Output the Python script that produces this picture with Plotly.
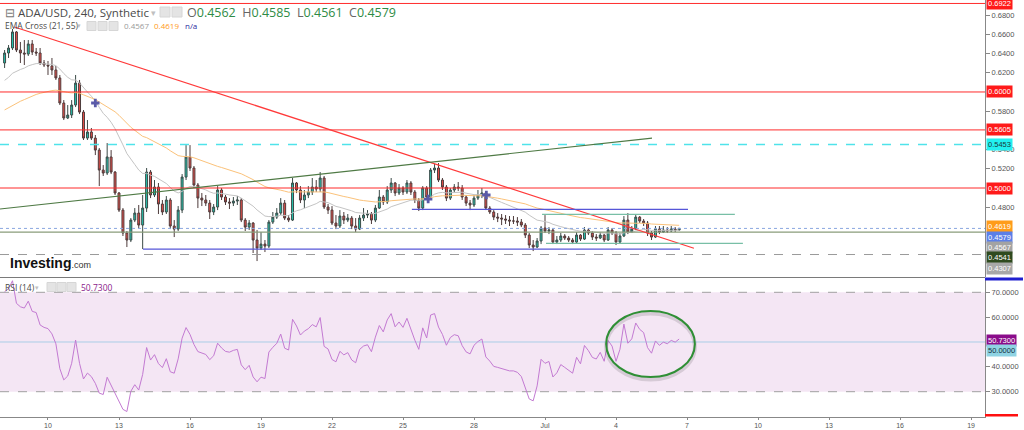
import plotly.graph_objects as go
import pandas as pd

# ---------------- data ----------------
first_open = 0.6302
candle_start = "2019-06-08 04:00"
candle_count = 172

close = [
    0.6406, 0.6458, 0.6625, 0.6437, 0.6406, 0.6395, 0.6500, 0.6416, 0.6406, 0.6302,
    0.6281, 0.6271, 0.6229, 0.6146, 0.5885, 0.5729, 0.5760, 0.5864, 0.6093, 0.5791,
    0.5520, 0.5583, 0.5520, 0.5395, 0.5187, 0.5156, 0.5323, 0.5166, 0.4948, 0.4770,
    0.4531, 0.4458, 0.4666, 0.4739, 0.4614, 0.4791, 0.5166, 0.4927, 0.5010, 0.4833,
    0.4750, 0.4875, 0.4604, 0.4572, 0.4770, 0.5114, 0.5323, 0.5208, 0.5031, 0.4895,
    0.4875, 0.4843, 0.4750, 0.4802, 0.4979, 0.4906, 0.4854, 0.4843, 0.4864, 0.4875,
    0.4666, 0.4593, 0.4635, 0.4458, 0.4375, 0.4416, 0.4395, 0.4645, 0.4697, 0.4739,
    0.4843, 0.4687, 0.4666, 0.5052, 0.4979, 0.4875, 0.4927, 0.4958, 0.5010, 0.4989,
    0.5104, 0.4802, 0.4770, 0.4635, 0.4604, 0.4708, 0.4666, 0.4687, 0.4604, 0.4572,
    0.4687, 0.4718, 0.4729, 0.4666, 0.4791, 0.4906, 0.4854, 0.4979, 0.5052, 0.4948,
    0.5000, 0.4958, 0.5052, 0.4958, 0.4875, 0.4791, 0.5000, 0.4906, 0.5187, 0.5208,
    0.5083, 0.5010, 0.4895, 0.4979, 0.5010, 0.5000, 0.4906, 0.4843, 0.4823, 0.4895,
    0.4927, 0.4948, 0.4791, 0.4750, 0.4697, 0.4687, 0.4677, 0.4666, 0.4656, 0.4656,
    0.4645, 0.4614, 0.4510, 0.4406, 0.4385, 0.4448, 0.4583, 0.4552, 0.4562, 0.4437,
    0.4458, 0.4500, 0.4479, 0.4458, 0.4437, 0.4510, 0.4468, 0.4562, 0.4531, 0.4489,
    0.4479, 0.4510, 0.4458, 0.4562, 0.4531, 0.4437, 0.4500, 0.4666, 0.4541, 0.4572,
    0.4697, 0.4656, 0.4635, 0.4531, 0.4489, 0.4572, 0.4541, 0.4562, 0.4552, 0.4572,
    0.4562, 0.4579,
]
high = [
    0.6437, 0.6489, 0.6656, 0.6635, 0.6521, 0.6541, 0.6541, 0.6541, 0.6458, 0.6458,
    0.6333, 0.6323, 0.6354, 0.6271, 0.6177, 0.5916, 0.5864, 0.5916, 0.6177, 0.6125,
    0.5812, 0.5708, 0.5625, 0.5552, 0.5416, 0.5239, 0.5468, 0.5395, 0.5177, 0.4958,
    0.4791, 0.4552, 0.4687, 0.4791, 0.4823, 0.4927, 0.5208, 0.5187, 0.5083, 0.5052,
    0.4875, 0.4916, 0.4895, 0.4666, 0.4812, 0.5145, 0.5447, 0.5447, 0.5229, 0.5052,
    0.4948, 0.4927, 0.4875, 0.4833, 0.5020, 0.4999, 0.4927, 0.4895, 0.4906, 0.4916,
    0.4895, 0.4687, 0.4666, 0.4645, 0.4562, 0.4541, 0.4458, 0.4666, 0.4750, 0.4791,
    0.4895, 0.4875, 0.4718, 0.5104, 0.5062, 0.5020, 0.4979, 0.5020, 0.5104, 0.5083,
    0.5166, 0.5125, 0.4833, 0.4812, 0.4718, 0.4770, 0.4750, 0.4729, 0.4708, 0.4687,
    0.4718, 0.4791, 0.4770, 0.4750, 0.4823, 0.4979, 0.4927, 0.5020, 0.5104, 0.5062,
    0.5041, 0.5020, 0.5083, 0.5072, 0.4979, 0.4895, 0.5020, 0.5020, 0.5208, 0.5250,
    0.5260, 0.5104, 0.5031, 0.5000, 0.5041, 0.5062, 0.5031, 0.4927, 0.4875, 0.4927,
    0.4979, 0.5000, 0.4958, 0.4812, 0.4770, 0.4739, 0.4729, 0.4718, 0.4708, 0.4708,
    0.4697, 0.4677, 0.4635, 0.4531, 0.4458, 0.4479, 0.4604, 0.4718, 0.4593, 0.4572,
    0.4500, 0.4531, 0.4520, 0.4500, 0.4479, 0.4541, 0.4520, 0.4593, 0.4583, 0.4552,
    0.4520, 0.4541, 0.4520, 0.4593, 0.4583, 0.4552, 0.4531, 0.4708, 0.4739, 0.4604,
    0.4729, 0.4708, 0.4677, 0.4656, 0.4552, 0.4604, 0.4604, 0.4604, 0.4593, 0.4604,
    0.4593, 0.4585,
]
low = [
    0.6250, 0.6354, 0.6437, 0.6416, 0.6302, 0.6281, 0.6375, 0.6385, 0.6375, 0.6281,
    0.6260, 0.6177, 0.6177, 0.6125, 0.5864, 0.5708, 0.5718, 0.5729, 0.5843, 0.5770,
    0.5500, 0.5500, 0.5500, 0.5343, 0.5020, 0.5125, 0.5135, 0.5145, 0.4927, 0.4750,
    0.4500, 0.4385, 0.4437, 0.4645, 0.4583, 0.4364, 0.4750, 0.4895, 0.4906, 0.4729,
    0.4718, 0.4729, 0.4572, 0.4489, 0.4552, 0.4739, 0.5083, 0.5177, 0.5000, 0.4791,
    0.4812, 0.4812, 0.4677, 0.4718, 0.4770, 0.4875, 0.4823, 0.4781, 0.4812, 0.4823,
    0.4645, 0.4552, 0.4562, 0.4323, 0.4239, 0.4354, 0.4333, 0.4375, 0.4625, 0.4677,
    0.4718, 0.4666, 0.4645, 0.4656, 0.4947, 0.4843, 0.4791, 0.4895, 0.4927, 0.4958,
    0.4958, 0.4781, 0.4729, 0.4614, 0.4572, 0.4583, 0.4625, 0.4645, 0.4572, 0.4541,
    0.4562, 0.4656, 0.4687, 0.4625, 0.4645, 0.4781, 0.4823, 0.4833, 0.4948, 0.4916,
    0.4927, 0.4927, 0.4937, 0.4927, 0.4843, 0.4760, 0.4770, 0.4875, 0.4885, 0.5156,
    0.5062, 0.4979, 0.4864, 0.4875, 0.4958, 0.4969, 0.4875, 0.4812, 0.4770, 0.4802,
    0.4875, 0.4895, 0.4770, 0.4729, 0.4666, 0.4645, 0.4614, 0.4625, 0.4604, 0.4625,
    0.4604, 0.4593, 0.4479, 0.4375, 0.4343, 0.4375, 0.4416, 0.4531, 0.4520, 0.4416,
    0.4416, 0.4437, 0.4458, 0.4437, 0.4416, 0.4427, 0.4448, 0.4458, 0.4510, 0.4458,
    0.4448, 0.4468, 0.4437, 0.4448, 0.4510, 0.4406, 0.4427, 0.4489, 0.4520, 0.4531,
    0.4562, 0.4635, 0.4604, 0.4500, 0.4458, 0.4479, 0.4520, 0.4531, 0.4531, 0.4541,
    0.4541, 0.4561,
]

# indicator seeds (state of the indicators at the first visible candle)
ema_fast_period, ema_slow_period = 21, 55
ema_fast_seed, ema_slow_seed = 0.6093, 0.5791
rsi_period = 14
rsi_seed_gain, rsi_seed_loss = 0.0070, 0.0033

# horizontal levels
red_levels = [0.6922, 0.6000, 0.5605, 0.5000]
cyan_level = 0.5453
olive_level = 0.4541
gray_dashed_level = 0.4307
last_price = 0.4579

# drawn trend / range lines: (t0, p0, t1, p1)
red_trend = ("2019-06-08 14:00", 0.6677, "2019-07-07 07:00", 0.4372)
green_trend = ("2019-06-07 23:20", 0.4781, "2019-07-05 12:30", 0.5520)
blue_low = ("2019-06-14 00:20", 0.4364, "2019-07-06 16:50", 0.4364)
blue_high = ("2019-06-25 09:00", 0.4778, "2019-07-07 01:00", 0.4778)
teal_high = ("2019-06-30 21:00", 0.4726, "2019-07-09 00:30", 0.4726)
teal_low = ("2019-07-01 01:00", 0.4424, "2019-07-09 08:40", 0.4424)

cross_times = ["2019-06-12 00:00", "2019-06-26 01:30", "2019-06-28 12:30"]
cross_prices = [0.5885, 0.4885, 0.4927]

ellipse = ("2019-07-03 14:00", 35.9, "2019-07-07 08:00", 62.5)

x_tick_dates = ["2019-06-10", "2019-06-13", "2019-06-16", "2019-06-19", "2019-06-22",
                "2019-06-25", "2019-06-28", "2019-07-01", "2019-07-04", "2019-07-07",
                "2019-07-10", "2019-07-13", "2019-07-16", "2019-07-19"]
x_tick_text = ["10", "13", "16", "19", "22", "25", "28", "Jul", "4", "7", "10", "13", "16", "19"]
price_ticks = [0.68, 0.66, 0.64, 0.62, 0.58, 0.54, 0.52, 0.48]
rsi_ticks = [70, 60, 40, 30]

# (text, value, bg, fg, pixel shift)
price_tags = [
    ("0.6922", 0.6922, "#ff1a1a", "white", 0),
    ("0.6000", 0.6000, "#ff1a1a", "white", 0),
    ("0.5605", 0.5605, "#ff1a1a", "white", 0),
    ("0.5453", 0.5453, "#22f0f0", "#1a3a3a", 0),
    ("0.5000", 0.5000, "#ff1a1a", "white", 0),
    ("0.4619", 0.4619, "#ff9c1a", "white", -2),
    ("0.4579", 0.4579, "#5b7fe8", "white", -9),
    ("0.4567", 0.4567, "#a3a3a3", "white", -17.5),
    ("0.4541", 0.4541, "#2f4a1f", "white", -25),
    ("0.4307", 0.4307, "#a8a8a8", "white", -14),
]
rsi_tags = [
    ("50.7300", 50.73, "#8a0c8a", "white", 0),
    ("50.0000", 50.0, "#8fd3e3", "#163040", -8),
]

# ---------------- derived ----------------
times = pd.date_range(candle_start, periods=candle_count, freq="4h")
opens = [first_open] + close[:-1]

def ema(values, period, seed):
    a = 2.0 / (period + 1)
    out, e = [], seed
    for v in values:
        e = e + a * (v - e)
        out.append(e)
    return out

ema_fast = ema(close, ema_fast_period, ema_fast_seed)
ema_slow = ema(close, ema_slow_period, ema_slow_seed)

rsi = []
ag, al = rsi_seed_gain, rsi_seed_loss
prev = first_open
for c in close:
    d = c - prev
    prev = c
    ag = (ag * (rsi_period - 1) + max(d, 0)) / rsi_period
    al = (al * (rsi_period - 1) + max(-d, 0)) / rsi_period
    rsi.append(100 - 100 / (1 + ag / al))

# ---------------- layout geometry ----------------
W, H = 1024, 430
ML, MR, MT, MB = 0, 39, 0, 13
PW, PH = W - ML - MR, H - MT - MB

def fx(px):
    return px / PW

def fy(py):
    return (PH - py) / PH

price_range = [0.4073, 0.6958]
rsi_range = [19.82, 75.35]
x_range = ["2019-06-07 23:20", "2019-07-19 14:10"]

fig = go.Figure()

fig.add_trace(go.Candlestick(
    x=times, open=opens, high=high, low=low, close=close,
    increasing=dict(line=dict(color="#3b4a47", width=1), fillcolor="#25c6b0"),
    decreasing=dict(line=dict(color="#4d3b3b", width=1), fillcolor="#ea4f4a"),
    whiskerwidth=0, showlegend=False, hoverinfo="skip", xaxis="x", yaxis="y",
))
fig.add_trace(go.Scatter(x=times, y=ema_fast, mode="lines",
                         line=dict(color="#c4c4c4", width=1), xaxis="x", yaxis="y",
                         hoverinfo="skip"))
fig.add_trace(go.Scatter(x=times, y=ema_slow, mode="lines",
                         line=dict(color="#fbc27a", width=1), xaxis="x", yaxis="y",
                         hoverinfo="skip"))
fig.add_trace(go.Scatter(x=cross_times, y=cross_prices, mode="markers",
                         marker=dict(symbol="cross", size=7, color="#5a5aa8",
                                     line=dict(width=0)),
                         xaxis="x", yaxis="y", hoverinfo="skip"))
fig.add_trace(go.Scatter(x=times, y=rsi, mode="lines",
                         line=dict(color="#c37ad2", width=1), xaxis="x", yaxis="y2",
                         hoverinfo="skip"))

shapes = []
# RSI band
shapes.append(dict(type="rect", xref="paper", yref="y2", x0=0, x1=1, y0=30, y1=70,
                   fillcolor="#f4e6f4", line=dict(width=0), layer="below"))
for lv in (70, 30):
    shapes.append(dict(type="line", xref="paper", yref="y2", x0=0, x1=1, y0=lv, y1=lv,
                       line=dict(color="#a0a0a0", width=1, dash="dash"), layer="below"))
shapes.append(dict(type="line", xref="paper", yref="y2", x0=0, x1=1, y0=50, y1=50,
                   line=dict(color="#a9cde6", width=1), layer="below"))
# horizontal levels
for lv in red_levels:
    shapes.append(dict(type="line", xref="paper", yref="y", x0=0, x1=1, y0=lv, y1=lv,
                       line=dict(color="#ff2b2b", width=1)))
shapes.append(dict(type="line", xref="paper", yref="y", x0=0, x1=1, y0=cyan_level, y1=cyan_level,
                   line=dict(color="#4fe3ea", width=1.3, dash="dash")))
shapes.append(dict(type="line", xref="paper", yref="y", x0=0, x1=1, y0=olive_level, y1=olive_level,
                   line=dict(color="#8a9c7a", width=1.2)))
shapes.append(dict(type="line", xref="paper", yref="y", x0=0, x1=1, y0=gray_dashed_level,
                   y1=gray_dashed_level, line=dict(color="#9a9a9a", width=1, dash="dash")))
shapes.append(dict(type="line", xref="paper", yref="y", x0=0, x1=1, y0=last_price, y1=last_price,
                   line=dict(color="#8aa6e0", width=1, dash="dot")))
# trend / range lines
for seg, col in ((red_trend, "#ff3a3a"), (green_trend, "#4f7a45"), (blue_low, "#5656d8"),
                 (blue_high, "#5656d8"), (teal_high, "#78bfa6"), (teal_low, "#78bfa6")):
    shapes.append(dict(type="line", xref="x", yref="y", x0=seg[0], y0=seg[1], x1=seg[2], y1=seg[3],
                       line=dict(color=col, width=1.2)))
# ellipse with soft shadow
shapes.append(dict(type="circle", xref="x", yref="y2", x0=ellipse[0], y0=ellipse[1] - 1.0,
                   x1=ellipse[2], y1=ellipse[3] - 1.0,
                   line=dict(color="rgba(0,0,0,0.12)", width=4)))
shapes.append(dict(type="circle", xref="x", yref="y2", x0=ellipse[0], y0=ellipse[1],
                   x1=ellipse[2], y1=ellipse[3], line=dict(color="#2f8f35", width=2)))
# pane separator
shapes.append(dict(type="line", xref="paper", yref="paper", x0=0, x1=1, y0=fy(277.5), y1=fy(277.5),
                   line=dict(color="#7a7a7a", width=1)))
# stray tag edges at right
shapes.append(dict(type="rect", xref="paper", yref="paper", x0=1.0, x1=fx(1023), y0=fy(280.5),
                   y1=fy(277.5), fillcolor="#2020d0", line=dict(width=0)))
shapes.append(dict(type="rect", xref="paper", yref="paper", x0=1.0, x1=fx(1018), y0=fy(416.5),
                   y1=fy(414), fillcolor="#ff1010", line=dict(width=0)))
# header icon boxes
for x0 in (160, 172):
    shapes.append(dict(type="rect", xref="paper", yref="paper", x0=fx(x0), x1=fx(x0 + 10),
                       y0=fy(17), y1=fy(7), fillcolor="#e4e4e4", line=dict(color="#d6d6d6", width=1)))
for x0 in (87, 98, 109):
    shapes.append(dict(type="rect", xref="paper", yref="paper", x0=fx(x0), x1=fx(x0 + 9),
                       y0=fy(30.5), y1=fy(21.5), fillcolor="#e4e4e4", line=dict(color="#d6d6d6", width=1)))
for x0 in (47, 57, 67):
    shapes.append(dict(type="rect", xref="paper", yref="paper", x0=fx(x0), x1=fx(x0 + 9),
                       y0=fy(291.5), y1=fy(282.5), fillcolor="#e4e4e4", line=dict(color="#d6d6d6", width=1)))

ann = []
FONT = "Open Sans, Liberation Sans, Arial"
TAGFONT = "Liberation Sans, Arial"

def text_at(px, py, text, size, color, family=FONT):
    ann.append(dict(xref="paper", yref="paper", x=fx(px), y=fy(py), xanchor="left", yanchor="middle",
                    text=text, showarrow=False, font=dict(size=size, color=color, family=family)))

text_at(3, 12, "⊟", 12, "#777777")
text_at(16, 12, "ADA/USD, 240, Synthetic", 11.5, "#4a4a4a")
text_at(149, 12, "▾", 9, "#c0c0c0")
green = "#2e8b45"
text_at(185, 12, "O<span style='color:%s'>0.4562</span>  H<span style='color:%s'>0.4585</span>  "
        "L<span style='color:%s'>0.4561</span>  C<span style='color:%s'>0.4579</span>" % (green, green, green, green),
        12.5, "#666666")
text_at(3, 26, "EMA Cross (21, 55)", 8.5, "#4a4a4a")
text_at(75, 26, "▾", 7, "#c0c0c0")
text_at(122, 26, "0.4567", 8, "#9a9a9a")
text_at(152, 26, "0.4619", 8, "#ff9a1a")
text_at(183, 26, "n/a", 8, "#2a2aa0")
text_at(3, 287, "RSI (14)", 8.5, "#4a4a4a")
text_at(33, 287, "▾", 7, "#c0c0c0")
text_at(79, 287, "50.7300", 8.5, "#8a1a8a")
ann.append(dict(xref="paper", yref="paper", x=fx(8), y=fy(263), xanchor="left", yanchor="middle",
                text="<b>Investing</b><span style='font-size:9px;color:#333'>.com</span>", showarrow=False,
                font=dict(size=14, color="#111111", family="Liberation Sans, Arial")))

for txt, val, bg, fg, sh in price_tags:
    ann.append(dict(xref="paper", yref="y", x=1, y=val, xanchor="left", yanchor="middle", xshift=1,
                    yshift=sh, text=txt, showarrow=False, bgcolor=bg, borderpad=1,
                    font=dict(size=7.5, color=fg, family=TAGFONT)))
for txt, val, bg, fg, sh in rsi_tags:
    ann.append(dict(xref="paper", yref="y2", x=1, y=val, xanchor="left", yanchor="middle", xshift=1,
                    yshift=sh, text=txt, showarrow=False, bgcolor=bg, borderpad=1,
                    font=dict(size=7.5, color=fg, family=TAGFONT)))

axis_font = dict(size=7.5, color="#555555", family=TAGFONT)
x_font = dict(size=7, color="#555555", family=TAGFONT)
fig.update_layout(
    width=W, height=H, margin=dict(l=ML, r=MR, t=MT, b=MB, pad=0, autoexpand=False),
    paper_bgcolor="white", plot_bgcolor="white", showlegend=False,
    shapes=shapes, annotations=ann,
    xaxis=dict(domain=[0, 1], anchor="y2", type="date", range=x_range,
               tickvals=x_tick_dates, ticktext=x_tick_text, ticks="outside", ticklen=2,
               tickcolor="#888888", showline=True, linecolor="#888888", showgrid=False,
               zeroline=False, rangeslider=dict(visible=False), tickfont=x_font, fixedrange=True,
               automargin=False),
    yaxis=dict(domain=[fy(277), 1], anchor="x", side="right", range=price_range,
               tickvals=price_ticks, ticktext=["%.4f" % v for v in price_ticks],
               ticks="outside", ticklen=4, tickcolor="#888888", showline=True, linecolor="#888888",
               showgrid=False, zeroline=False, tickfont=axis_font, automargin=False),
    yaxis2=dict(domain=[0, fy(279)], anchor="x", side="right", range=rsi_range,
                tickvals=rsi_ticks, ticktext=["%.4f" % v for v in rsi_ticks],
                ticks="outside", ticklen=4, tickcolor="#888888", showline=True, linecolor="#888888",
                showgrid=False, zeroline=False, tickfont=axis_font, automargin=False),
)

fig.write_html("out.html")
